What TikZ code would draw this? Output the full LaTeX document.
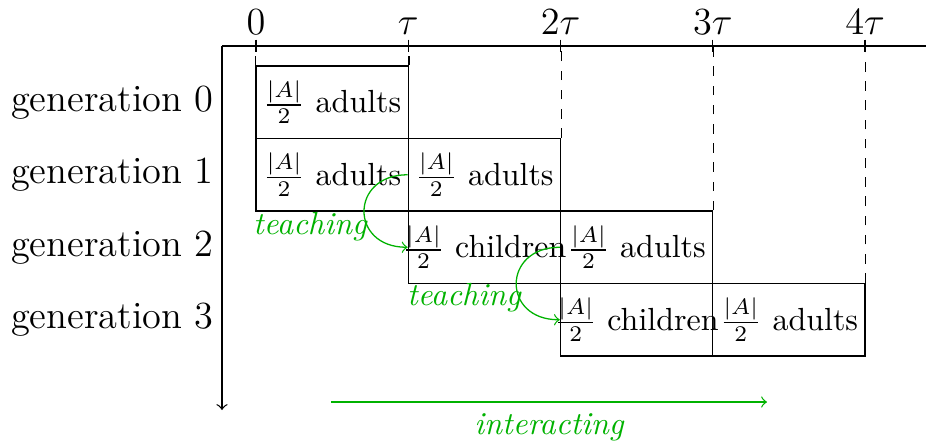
\documentclass[tikz,border=0pt]{standalone}
\usetikzlibrary{calc}
\definecolor{teachgreen}{rgb}{0.0,0.70,0.0}
\begin{document}
\begin{tikzpicture}[x=0.3125pt,y=-0.3125pt,
  box/.style={draw, minimum width=47.58pt, minimum height=22.66pt, inner sep=0pt},
  boxtext/.style={inner sep=0pt},
  genlabel/.style={anchor=east, font=\large},
  ticklabel/.style={anchor=south, font=\large},
  greenarrow/.style={->, teachgreen},
  greentext/.style={teachgreen, font=\itshape}]
\useasboundingbox (0,0) rectangle (926,444);
% axes
\coordinate (O) at (222,46);
\coordinate (xend) at (933,46);
\coordinate (yend) at (222,410);
\draw[->] (O) -- (xend);
\draw[->] (O) -- (yend);
% ticks and tick labels
\foreach \k/\lab in {0/$0$,1/$\tau$,2/$2\tau$,3/$3\tau$,4/$4\tau$}{
  \coordinate (tk\k) at ({256+152.25*\k},46);
  \draw ($(tk\k)+(0,-6.4)$) -- ($(tk\k)+(0,6.4)$);
  \node[ticklabel] (tl\k) at (tk\k) {\lab};
}
% generation labels
\node[genlabel] (gen0) at (225,102.25) {generation 0};
\node[genlabel] (gen1) at (225,174.75) {generation 1};
\node[genlabel] (gen2) at (225,247.25) {generation 2};
\node[genlabel] (gen3) at (225,319.75) {generation 3};
% boxes
\node[box] (g0a) at (332.1,102.25) {};
\node[box] (g1a) at (332.1,174.75) {};
\node[box] (g1b) at (484.4,174.75) {};
\node[box] (g2a) at (484.4,247.25) {};
\node[box] (g2b) at (636.6,247.25) {};
\node[box] (g3a) at (636.6,319.75) {};
\node[box] (g3b) at (788.9,319.75) {};
% box texts
\node[boxtext] (t0a) at (g0a) {$\frac{|A|}{2}$ adults};
\node[boxtext] (t1a) at (g1a) {$\frac{|A|}{2}$ adults};
\node[boxtext] (t1b) at (g1b) {$\frac{|A|}{2}$ adults};
\node[boxtext] (t2a) at (g2a) {$\frac{|A|}{2}$ children};
\node[boxtext] (t2b) at (g2b) {$\frac{|A|}{2}$ adults};
\node[boxtext] (t3a) at (g3a) {$\frac{|A|}{2}$ children};
\node[boxtext] (t3b) at (g3b) {$\frac{|A|}{2}$ adults};
% dashed guide lines
\draw[dashed] (g0a.north west) -- (g0a.north west |- O);
\draw[dashed] (g0a.north east) -- (g0a.north east |- O);
\draw[dashed] (g1b.north east) -- (g1b.north east |- O);
\draw[dashed] (g2b.north east) -- (g2b.north east |- O);
\draw[dashed] (g3b.north east) -- (g3b.north east |- O);
% teaching arrows
\draw[greenarrow] (g1b.west) to[out=180,in=180,looseness=2.05] (g2a.west);
\node[greentext] (teach1) at (310,227) {teaching};
\draw[greenarrow] (g2b.west) to[out=180,in=180,looseness=2.05] (g3a.west);
\node[greentext] (teach2) at (464,298) {teaching};
% interacting arrow
\coordinate (ia) at (331,402);
\coordinate (ib) at (767,402);
\draw[greenarrow] (ia) -- (ib) node[midway, below, greentext] (inter) {interacting};
\end{tikzpicture}
\end{document}
